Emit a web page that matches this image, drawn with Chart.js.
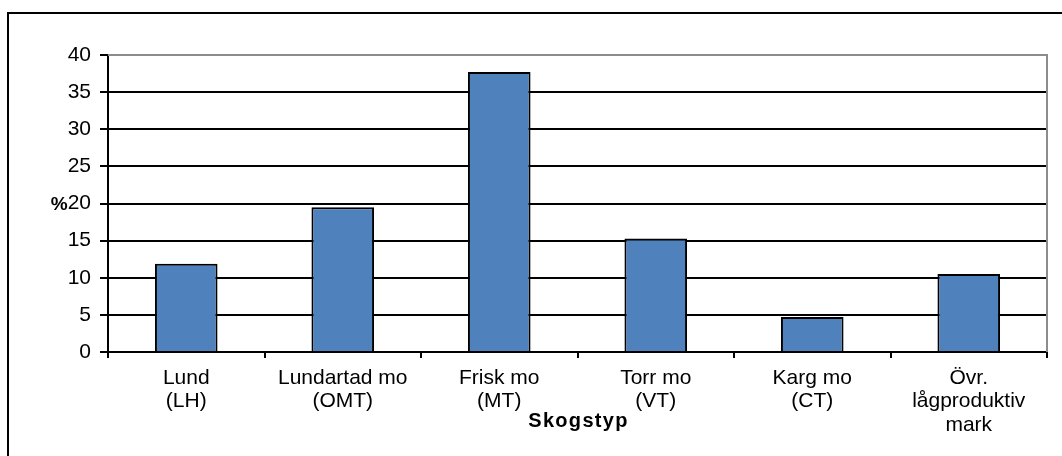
<!DOCTYPE html>
<html>
<head>
<meta charset="utf-8">
<script src="https://cdn.jsdelivr.net/npm/chart.js@4.4.1/dist/chart.umd.min.js"></script>
<style>
    body { margin: 0; background: #fff; }
    #wrap { width: 1062px; height: 456px; }
</style>
</head>
<body>
<div id="wrap"><canvas id="skogChart" width="1062" height="456"></canvas></div>
<script>
// forest types (multi-line labels) and share of area in percent
const categories = [
    ['Lund', '(LH)'],
    ['Lundartad mo', '(OMT)'],
    ['Frisk mo', '(MT)'],
    ['Torr mo', '(VT)'],
    ['Karg mo', '(CT)'],
    ['Övr.', 'lågproduktiv', 'mark']
];
const percent = [11.9, 19.5, 37.7, 15.3, 4.7, 10.5];
const yTicks = [0, 5, 10, 15, 20, 25, 30, 35, 40];
const xTitle = 'Skogstyp';
const yTitle = '%';

const font = 'Liberation Sans, Arial, sans-serif';
const tickSize = 21;

// outer frame, gray top/right plot border and the two axis titles
const decorations = {
    id: 'decorations',
    afterDraw(chart) {
        const ctx = chart.ctx;
        const area = chart.chartArea;
        const y = chart.scales.y;
        ctx.save();

        ctx.strokeStyle = '#000';
        ctx.lineWidth = 2;
        ctx.strokeRect(8, 13, 2000, 2000);

        ctx.strokeStyle = '#8c8c8c';
        ctx.lineWidth = 2;
        ctx.beginPath();
        ctx.moveTo(area.left, area.top);
        ctx.lineTo(area.right, area.top);
        ctx.lineTo(area.right, area.bottom);
        ctx.stroke();

        // "%" sits right against the "20" tick label
        ctx.font = tickSize + 'px ' + font;
        const labelRight = area.left - 8 - 9;
        const labelLeft = labelRight - ctx.measureText('20').width;
        ctx.fillStyle = '#000';
        ctx.font = 'bold 19px ' + font;
        ctx.textAlign = 'right';
        ctx.textBaseline = 'middle';
        ctx.fillText(yTitle, labelLeft, y.getPixelForValue(20) + 1);

        ctx.font = 'bold 20px ' + font;
        ctx.letterSpacing = '1.3px';
        ctx.textAlign = 'center';
        ctx.fillText(xTitle, (area.left + area.right) / 2 + 1, area.bottom + 69);
        ctx.restore();
    }
};

new Chart(document.getElementById('skogChart').getContext('2d'), {
    type: 'bar',
    data: {
        labels: categories,
        datasets: [{
            data: percent,
            backgroundColor: '#4f81bd',
            borderColor: '#000',
            borderWidth: 2,
            barPercentage: 0.4,
            categoryPercentage: 1
        }]
    },
    options: {
        responsive: false,
        animation: false,
        layout: { padding: { left: 8, right: 15, top: 55, bottom: 0 } },
        plugins: { legend: { display: false }, tooltip: { enabled: false } },
        scales: {
            x: {
                grid: {
                    offset: true,
                    drawOnChartArea: false,
                    color: '#000',
                    lineWidth: 2,
                    tickLength: 6
                },
                border: { color: '#000', width: 2 },
                ticks: {
                    color: '#000',
                    padding: 9,
                    maxRotation: 0,
                    autoSkip: false,
                    font: { family: font, size: tickSize, lineHeight: 1.1 }
                },
                afterFit(scale) { scale.height = 104; }
            },
            y: {
                min: 0,
                max: 40,
                afterBuildTicks(scale) {
                    scale.ticks = yTicks.map(v => ({ value: v }));
                },
                grid: {
                    color: ctx => ctx.tick && ctx.tick.value === 40 ? '#8c8c8c' : '#000',
                    tickColor: '#000',
                    lineWidth: 2,
                    tickLength: 8
                },
                border: { color: '#000', width: 2 },
                ticks: {
                    color: '#000',
                    padding: 9,
                    font: { family: font, size: tickSize }
                },
                afterFit(scale) { scale.width = 100; }
            }
        }
    },
    plugins: [decorations]
});
</script>
</body>
</html>
